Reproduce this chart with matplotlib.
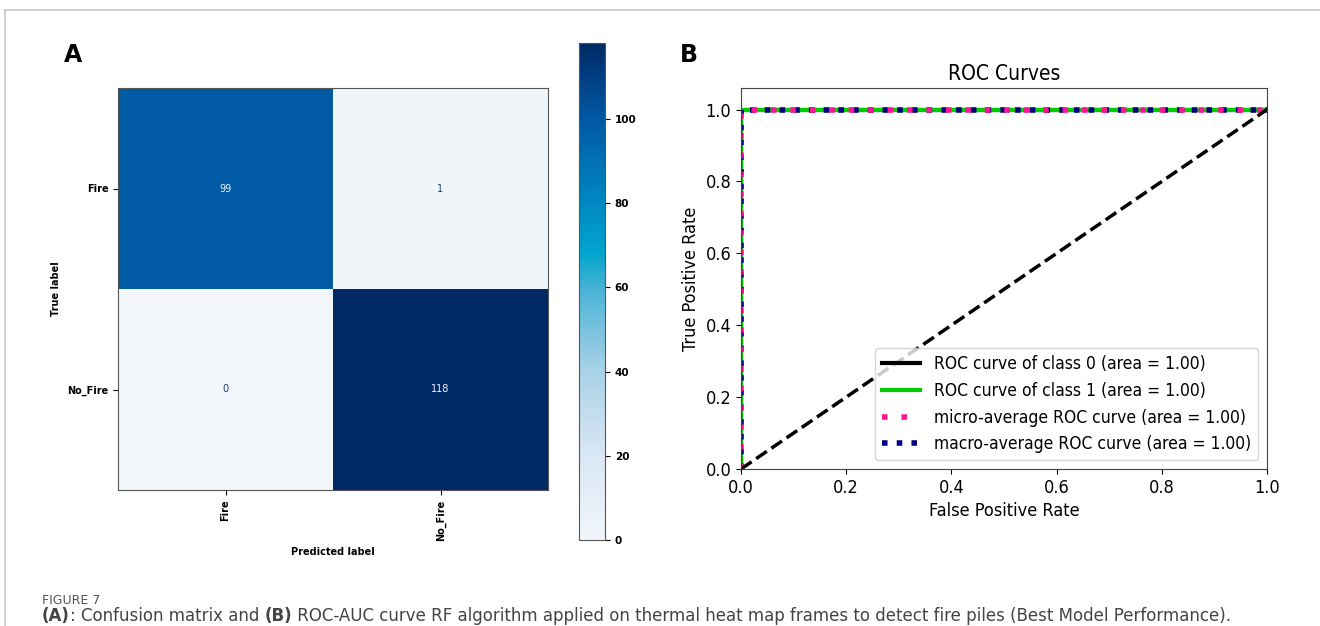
import matplotlib
matplotlib.use("Agg")
import matplotlib.pyplot as plt
import numpy as np
from matplotlib.colors import LinearSegmentedColormap
from matplotlib.lines import Line2D

# data
class_names = ["Fire", "No_Fire"]
cm = np.array([[99, 1],
               [0, 118]])
fpr_0 = [0.0, 0.0, 1.0]
tpr_0 = [0.0, 1.0, 1.0]
fpr_1 = [0.0, 0.0, 1.0]
tpr_1 = [0.0, 1.0, 1.0]
fpr_micro = [0.0, 0.0, 1.0]
tpr_micro = [0.0, 1.0, 1.0]
fpr_macro = [0.0, 0.0, 1.0]
tpr_macro = [0.0, 1.0, 1.0]
auc_vals = [1.00, 1.00, 1.00, 1.00]

# colormap
cmap = LinearSegmentedColormap.from_list("blues_c", [
    (0.00, "#f2f6fb"),
    (0.17, "#d9e7f4"),
    (0.34, "#a9d2e7"),
    (0.50, "#4cb4d6"),
    (0.58, "#00a4cc"),
    (0.68, "#0088c0"),
    (0.85, "#0058a4"),
    (1.00, "#002a66"),
])

W, H = 1320, 626
fig = plt.figure(figsize=(W / 100, H / 100), dpi=100)

def fx(px):
    return px / W

def fy(py):
    return 1 - py / H

# frame lines of the journal figure
fig.add_artist(Line2D([fx(5), 1.0], [fy(10), fy(10)], color="#c8c8c8", lw=1.2))
fig.add_artist(Line2D([fx(5), fx(5)], [0.0, fy(10)], color="#c8c8c8", lw=1.2))

# ---- panel A: confusion matrix
ax1 = fig.add_axes([fx(118), fy(490), 430 / W, 402 / H])
im = ax1.imshow(cm, cmap=cmap, vmin=0, vmax=118, aspect="auto")
for i in range(2):
    for j in range(2):
        v = cm[i, j]
        col = "#eef4ff" if v > 59 else "#1a3c7a"
        ax1.text(j, i, str(v), ha="center", va="center", color=col, fontsize=7)
ax1.set_xticks([0, 1])
ax1.set_xticklabels(class_names, rotation=90, fontsize=7, fontweight="bold")
ax1.set_yticks([0, 1])
ax1.set_yticklabels(class_names, fontsize=7, fontweight="bold")
ax1.set_xlabel("Predicted label", fontsize=7, fontweight="bold")
ax1.set_ylabel("True label", fontsize=7, fontweight="bold")
for s in ax1.spines.values():
    s.set_color("#555555")

cax = fig.add_axes([fx(579), fy(540), 26 / W, 497 / H])
cb = fig.colorbar(im, cax=cax)
cb.set_ticks([0, 20, 40, 60, 80, 100])
cb.ax.tick_params(labelsize=7.5)
for t in cb.ax.get_yticklabels():
    t.set_fontweight("bold")
cb.outline.set_edgecolor("#555555")

fig.text(fx(64), fy(55), "A", fontsize=17, fontweight="bold", va="center")

# ---- panel B: ROC curves
ax2 = fig.add_axes([fx(741), fy(469), 526 / W, 381 / H])
ax2.plot(fpr_0, tpr_0, color="black", lw=3,
         label="ROC curve of class 0 (area = {:.2f})".format(auc_vals[0]))
ax2.plot(fpr_1, tpr_1, color="#00cc00", lw=3,
         label="ROC curve of class 1 (area = {:.2f})".format(auc_vals[1]))
ax2.plot(fpr_macro, tpr_macro, color="navy", ls=":", lw=4,
         label="macro-average ROC curve (area = {:.2f})".format(auc_vals[3]))
ax2.plot(fpr_micro, tpr_micro, color="deeppink", ls=":", lw=4, dashes=(1, 2.5),
         label="micro-average ROC curve (area = {:.2f})".format(auc_vals[2]))
ax2.plot([0, 1], [0, 1], "k--", lw=2.5)
h, l = ax2.get_legend_handles_labels()
order = [0, 1, 3, 2]
ax2.set_xlim(0.0, 1.0)
ax2.set_ylim(0.0, 1.06)
ax2.set_xticks([0.0, 0.2, 0.4, 0.6, 0.8, 1.0])
ax2.set_yticks([0.0, 0.2, 0.4, 0.6, 0.8, 1.0])
for t in ax2.get_xticklabels() + ax2.get_yticklabels():
    t.set_fontstretch("condensed")
    t.set_fontsize(13)
ax2.set_title("ROC Curves", fontsize=15, fontstretch="condensed")
ax2.set_xlabel("False Positive Rate", fontsize=13, fontstretch="condensed")
ax2.set_ylabel("True Positive Rate", fontsize=13, fontstretch="condensed")
ax2.legend([h[k] for k in order], [l[k] for k in order], loc="lower right",
           prop={"size": 12.5, "stretch": "condensed"},
           handlelength=2.2, borderaxespad=0.5)
for s in ax2.spines.values():
    s.set_color("#444444")

fig.text(fx(680), fy(55), "B", fontsize=17, fontweight="bold", va="center")

# caption
fig.text(fx(42), fy(601), "FIGURE 7", fontsize=9, color="#555555", va="center")
pieces = [("(A)", "bold"), (": Confusion matrix and ", "normal"), ("(B)", "bold"),
          (" ROC-AUC curve RF algorithm applied on thermal heat map frames to detect "
           "fire piles (Best Model Performance).", "normal")]
renderer = fig.canvas.get_renderer()
x = fx(42)
for txt, w in pieces:
    t = fig.text(x, fy(616), txt, fontsize=12, color="#444444", fontweight=w, va="center")
    bb = t.get_window_extent(renderer=renderer)
    x += bb.width / W

fig.savefig("out.png", dpi=100)
